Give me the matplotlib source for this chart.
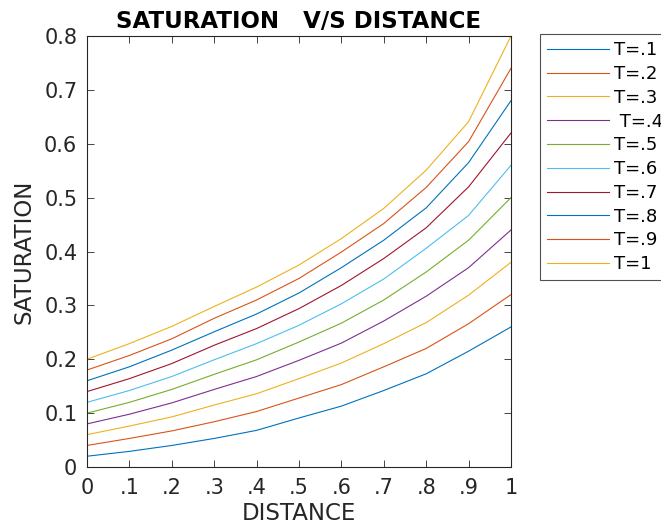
import numpy as np
import matplotlib
matplotlib.use('Agg')
import matplotlib.pyplot as plt

# distance values (x axis)
distance = [0, .1, .2, .3, .4, .5, .6, .7, .8, .9, 1]
xtick_labels = ['0', '.1', '.2', '.3', '.4', '.5', '.6', '.7', '.8', '.9', '1']

# saturation, one list per T
s_t01 = [0.020, 0.029, 0.040, 0.053, 0.068, 0.091, 0.113, 0.142, 0.173, 0.215, 0.260]
s_t02 = [0.040, 0.053, 0.067, 0.084, 0.103, 0.128, 0.153, 0.186, 0.220, 0.266, 0.320]
s_t03 = [0.060, 0.076, 0.093, 0.115, 0.136, 0.164, 0.193, 0.229, 0.268, 0.319, 0.380]
s_t04 = [0.080, 0.098, 0.119, 0.144, 0.168, 0.198, 0.230, 0.271, 0.317, 0.370, 0.440]
s_t05 = [0.100, 0.120, 0.144, 0.172, 0.199, 0.232, 0.267, 0.310, 0.362, 0.421, 0.500]
s_t06 = [0.120, 0.142, 0.168, 0.199, 0.229, 0.263, 0.303, 0.349, 0.406, 0.467, 0.560]
s_t07 = [0.140, 0.164, 0.192, 0.226, 0.257, 0.294, 0.337, 0.387, 0.444, 0.520, 0.620]
s_t08 = [0.160, 0.186, 0.217, 0.251, 0.284, 0.323, 0.370, 0.421, 0.481, 0.565, 0.680]
s_t09 = [0.180, 0.207, 0.238, 0.276, 0.310, 0.350, 0.399, 0.452, 0.519, 0.604, 0.740]
s_t10 = [0.200, 0.229, 0.261, 0.298, 0.334, 0.375, 0.424, 0.480, 0.551, 0.641, 0.800]

series = [s_t01, s_t02, s_t03, s_t04, s_t05, s_t06, s_t07, s_t08, s_t09, s_t10]
labels = ['T=.1', 'T=.2', 'T=.3', ' T=.4', 'T=.5', 'T=.6', 'T=.7', 'T=.8', 'T=.9', 'T=1']

# matlab default line colours
colors = ['#0072BD', '#D95319', '#EDB120', '#7E2F8E', '#77AC30', '#4DBEEE', '#A2142F']

plt.rcParams['font.family'] = ['DejaVu Sans']
fig = plt.figure(figsize=(6.61, 5.3), dpi=100)
ax = fig.add_axes([87/661, 1-467/530, (511-87)/661, (467-36)/530])

for i, s in enumerate(series):
    ax.plot(distance, s, color=colors[i % 7], lw=0.8, label=labels[i])

ax.set_xlim(0, 1)
ax.set_ylim(0, 0.8)
ax.set_xticks(distance)
ax.set_xticklabels(xtick_labels)
ax.set_yticks([0, .1, .2, .3, .4, .5, .6, .7, .8])
ax.set_yticklabels(['0', '0.1', '0.2', '0.3', '0.4', '0.5', '0.6', '0.7', '0.8'])

gray = '#262626'
for sp in ax.spines.values():
    sp.set_color(gray)
    sp.set_linewidth(0.8)
ax.tick_params(direction='in', top=True, right=True, length=5, width=0.6,
               colors=gray, labelsize=15, labelcolor=gray)
ax.tick_params(axis='x', pad=8)
ax.tick_params(axis='y', pad=7)

ax.set_title('SATURATION   V/S DISTANCE', fontsize=16.5, fontweight='bold', pad=6)
ax.set_xlabel('DISTANCE', fontsize=16.5, color=gray, labelpad=3)
ax.set_ylabel('SATURATION', fontsize=16.5, color=gray, labelpad=6)

leg = fig.legend(loc='upper left', bbox_to_anchor=(540/661, 1-34/530),
                 fontsize=13, handlelength=3.4, handletextpad=0.28,
                 labelspacing=0.32, borderpad=0.4, fancybox=False,
                 frameon=True, borderaxespad=0)
leg.get_frame().set_edgecolor(gray)
leg.get_frame().set_linewidth(0.8)

fig.savefig('out.png', dpi=100)
